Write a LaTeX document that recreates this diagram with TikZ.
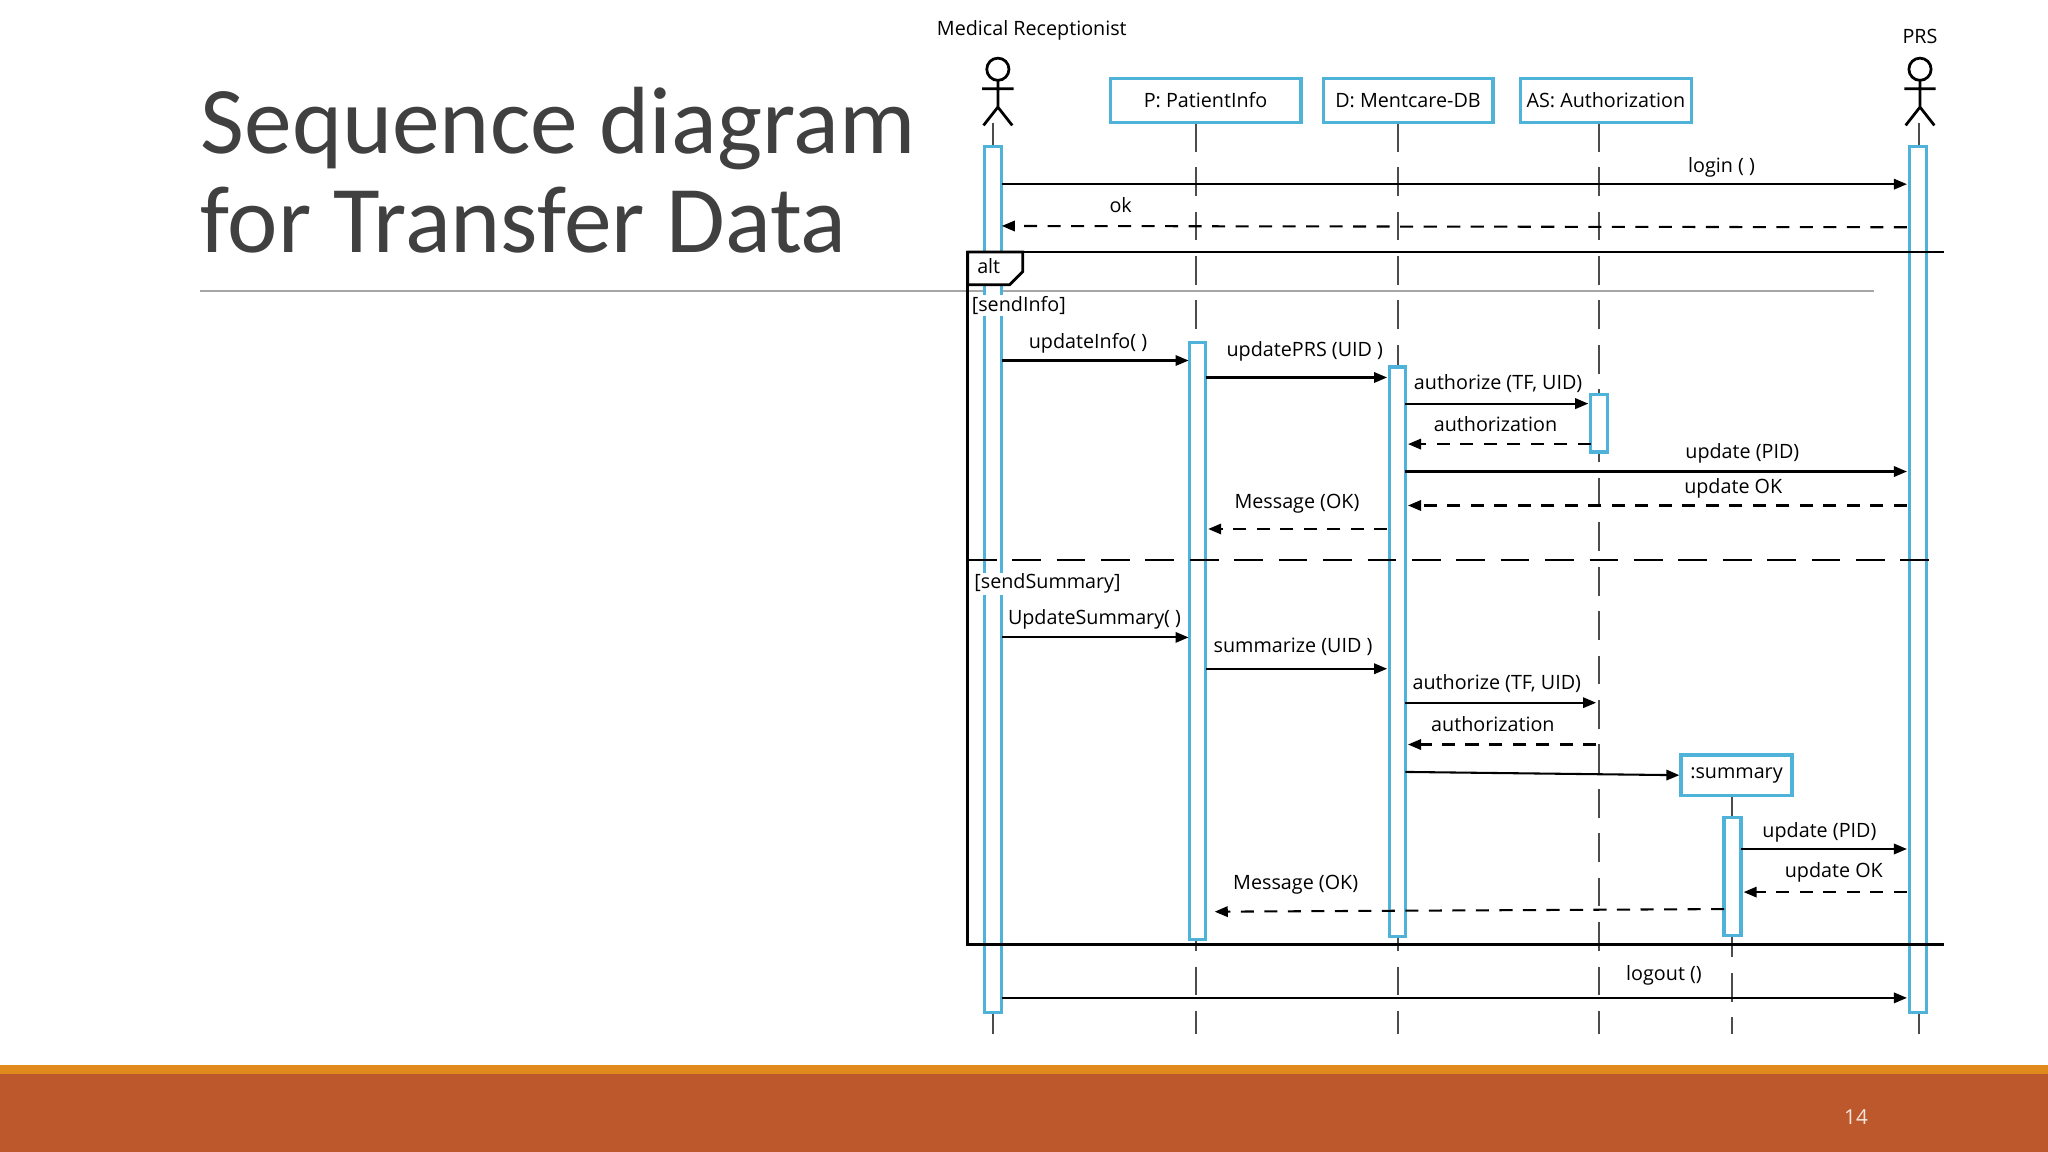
\documentclass[tikz,border=0pt]{standalone}
\usepackage{fontspec}
\setmainfont{Open Sans}
\newfontfamily\titlefont{Carlito}
\usetikzlibrary{arrows.meta}
\definecolor{cy}{HTML}{4FB3D9}
\definecolor{tgray}{HTML}{404040}
\definecolor{rust}{HTML}{BC582C}
\definecolor{org}{HTML}{E08A1E}
\tikzset{
 act/.style={draw=cy,line width=0.7pt,fill=white},
 obj/.style={draw=cy,line width=0.7pt,fill=white,inner sep=0pt,font=\fontsize{4.3pt}{5pt}\selectfont},
 life/.style={dash pattern=on 2.2mm off 1.2mm,line width=0.45pt,gray!60!black},
 msg/.style={-{Triangle[length=1mm,width=0.8mm]},line width=0.45pt},
 ret/.style={msg,dash pattern=on 1mm off 0.8mm},
 lbl/.style={font=\fontsize{4.3pt}{5pt}\selectfont,inner sep=0pt},
 guard/.style={lbl,fill=white,inner sep=0.3pt},
}
\begin{document}
\begin{tikzpicture}[x=0.1mm,y=-0.1mm]
\useasboundingbox (0,0) rectangle (1568,882);
\fill[org] (0,815) rectangle (1568,822);
\fill[rust] (0,822) rectangle (1568,882);
\node[text=white!85!rust,font=\fontsize{4.5pt}{5pt}\selectfont] (pg) at (1421,855) {14};
\node[anchor=north west,align=left,text=tgray,font=\titlefont\fontsize{20.8pt}{21.5pt}\selectfont,inner sep=0pt] (title) at (153,66) {Sequence diagram\\for Transfer Data};
\draw[gray!70,line width=0.4pt] (153,223) -- (1435,223);
% lifelines
\foreach \x in {760,916,1070,1224,1469} \draw[life] (\x,94) -- (\x,792);
\draw[life] (1326,609) -- (1326,792);
% actors
\foreach \x in {764,1470}{
 \draw[line width=0.6pt] (\x,53) circle (8.5);
 \draw[line width=0.6pt] (\x,62) -- (\x,82) (\x-12,68) -- (\x+12,68) (\x-11,96) -- (\x,82) -- (\x+11,96);
}
\node[lbl] (mr) at (790,23) {Medical Receptionist};
\node[lbl] (prs) at (1470,28) {PRS};
% objects
\node[obj,minimum width=14.6mm,minimum height=3.4mm] (pi) at (923,77) {P: PatientInfo};
\node[obj,minimum width=13mm,minimum height=3.4mm] (db) at (1078,77) {D: Mentcare-DB};
\node[obj,minimum width=13.1mm,minimum height=3.4mm] (as) at (1229.5,77) {AS: Authorization};
% activations
\draw[act] (754,112) rectangle (767,775);
\draw[act] (1462,112) rectangle (1475,775);
\draw[act] (911,262) rectangle (923,719);
\draw[act] (1064,281) rectangle (1076,717);
\draw[act] (1218,302) rectangle (1231,346);
\node[obj,minimum width=8.5mm,minimum height=3.1mm] (sum) at (1329.5,593.5) {:summary};
\draw[act] (1320,626) rectangle (1333,716);
% alt frame
\draw[line width=0.6pt] (1488,193) -- (741,193) -- (741,723) -- (1488,723);
\draw[line width=0.6pt,fill=white] (741,193) -- (783,193) -- (783,208) -- (773,218) -- (741,218) -- cycle;
\node[lbl] (alt) at (757,204) {alt};
\draw[line width=0.5pt,dash pattern=on 2.2mm off 1.2mm] (741,429) -- (1488,429);
\node[guard] (g1) at (780,234) {[sendInfo]};
\node[guard] (g2) at (802,447) {[sendSummary]};
% messages
\draw[msg] (767,141) -- (1460,141); \node[lbl] at (1318,128) {login ( )};
\draw[ret] (1460,174) -- (767,173); \node[lbl] at (858,157) {ok};
\draw[msg] (767,276) -- (910,276); \node[lbl] at (833,263) {updateInfo( )};
\draw[msg] (923,289) -- (1062,289); \node[lbl] at (999,269) {updatePRS (UID )};
\draw[msg] (1076,309) -- (1216,309); \node[lbl] at (1147,294) {authorize (TF, UID)};
\draw[ret] (1218,340) -- (1078,340); \node[lbl] at (1145,325) {authorization};
\draw[msg] (1076,361) -- (1460,361); \node[lbl] at (1334,347) {update (PID)};
\draw[ret] (1460,387) -- (1078,387); \node[lbl] at (1327,374) {update OK};
\draw[ret] (1062,405) -- (925,405); \node[lbl] at (993,386) {Message (OK)};
\draw[msg] (767,488) -- (910,488); \node[lbl] at (838,474) {UpdateSummary( )};
\draw[msg] (923,512) -- (1062,512); \node[lbl] at (990,495) {summarize (UID )};
\draw[msg] (1076,538) -- (1222,538); \node[lbl] at (1146,523) {authorize (TF, UID)};
\draw[ret] (1222,570) -- (1078,570); \node[lbl] at (1143,554) {authorization};
\draw[msg] (1076,591) -- (sum.west);
\draw[msg] (1333,650) -- (1460,650); \node[lbl] at (1393,637) {update (PID)};
\draw[ret] (1460,683) -- (1335,683); \node[lbl] at (1404,668) {update OK};
\draw[ret] (1320,696) -- (930,698); \node[lbl] at (992,677) {Message (OK)};
\draw[msg] (767,764) -- (1460,764); \node[lbl] at (1274,747) {logout ()};
\end{tikzpicture}
\end{document}
